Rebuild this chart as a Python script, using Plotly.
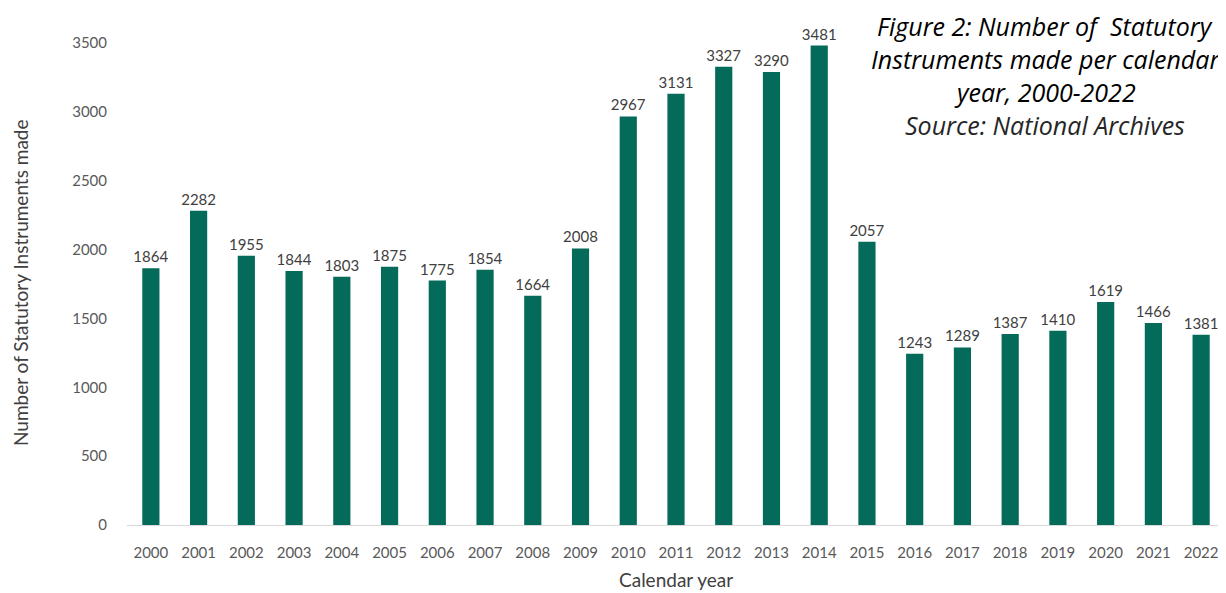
import plotly.graph_objects as go

years = [str(y) for y in range(2000, 2023)]
counts = [1864, 2282, 1955, 1844, 1803, 1875, 1775, 1854, 1664, 2008,
          2967, 3131, 3327, 3290, 3481, 2057, 1243, 1289, 1387, 1410,
          1619, 1466, 1381]
y_ticks = [0, 500, 1000, 1500, 2000, 2500, 3000, 3500]

title_lines = ["Figure 2: Number of  Statutory", "Instruments made per calendar", "year, 2000-2022"]
source_line = "Source: National Archives"
x_title = "Calendar year"
y_title = "Number of Statutory Instruments made"

bar_color = "#046A5A"
font_family = "Lato, 'Open Sans', sans-serif"
title_family = "'Open Sans', Lato, sans-serif"

# page body adds an 8px offset; work in reference pixels and subtract it
OFF = 8
W, H = 1226 - OFF, 593 - OFF
L, R, T, B = 127 - OFF, 1, 43 - OFF, 593 - 525
PW, PH = W - L - R, H - T - B

fig = go.Figure(go.Bar(
    x=years, y=counts,
    marker=dict(color=bar_color, line=dict(width=0)),
    text=[str(c) for c in counts],
    textposition="outside",
    constraintext="none",
    textfont=dict(family=font_family, size=15, color="#404040"),
    cliponaxis=False,
))

fig.update_layout(
    width=W, height=H,
    margin=dict(l=L, r=R, t=T, b=B, autoexpand=False),
    paper_bgcolor="white", plot_bgcolor="white",
    bargap=0.64,
    showlegend=False,
    font=dict(family=font_family, color="#595959"),
)
fig.update_xaxes(
    type="category", automargin=False,
    showline=True, linecolor="#D9D9D9", linewidth=1,
    showgrid=False, ticks="",
    ticklabelstandoff=14,
    tickfont=dict(size=15, color="#595959"),
)
fig.update_yaxes(
    range=[0, 3500], automargin=False,
    tickvals=y_ticks,
    showgrid=False, showline=False, zeroline=False, ticks="",
    ticklabelstandoff=19,
    tickfont=dict(size=15, color="#595959"),
)

def px_x(px):
    return (px - OFF - L) / PW

def px_y(py):
    return (H - B - (py - OFF)) / PH

fig.add_annotation(
    xref="paper", yref="paper", x=px_x(676), y=px_y(579),
    text=x_title, showarrow=False, xanchor="center", yanchor="middle",
    font=dict(family=font_family, size=19, color="#404040"),
)
fig.add_annotation(
    xref="paper", yref="paper", x=px_x(20), y=px_y(283),
    text=y_title, showarrow=False, xanchor="center", yanchor="middle",
    textangle=-90,
    font=dict(family=font_family, size=19, color="#404040"),
)

cx = px_x(1045)
for line, yp in zip(title_lines, [26, 59, 92]):
    fig.add_annotation(
        xref="paper", yref="paper", x=cx, y=px_y(yp),
        text="<i>" + line + "</i>", showarrow=False,
        xanchor="center", yanchor="middle", borderpad=0,
        font=dict(family=title_family, size=25, color="#000000"),
    )
fig.add_annotation(
    xref="paper", yref="paper", x=cx, y=px_y(125),
    text="<i>" + source_line + "</i>", showarrow=False,
    xanchor="center", yanchor="middle", borderpad=0,
    font=dict(family=title_family, size=25, color="#262626"),
)

fig.write_html("out.html")
